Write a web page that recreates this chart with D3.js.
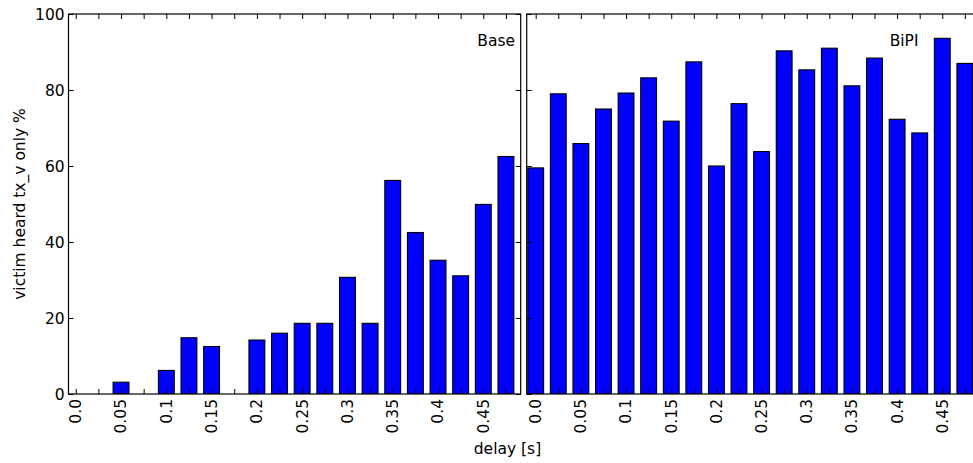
<!DOCTYPE html>
<html>
<head>
<meta charset="utf-8">
<script src="https://cdn.jsdelivr.net/npm/d3@7"></script>
<style>
  body { margin: 0; background: #fff; }
  svg text { font-family: "DejaVu Sans", sans-serif; fill: #000; font-size: 15.5px; }
</style>
</head>
<body>
<div class="chart"></div>
<script>
// delays on the x axis (one bar per delay)
const delays = [0, 0.025, 0.05, 0.075, 0.1, 0.125, 0.15, 0.175, 0.2, 0.225,
                0.25, 0.275, 0.3, 0.325, 0.35, 0.375, 0.4, 0.425, 0.45, 0.475];
const xTickLabels = ['0.0', '0.05', '0.1', '0.15', '0.2', '0.25', '0.3', '0.35', '0.4', '0.45'];
const yTicks = [0, 20, 40, 60, 80, 100];
const baseValues = [0, 0, 3.1, 0, 6.2, 14.8, 12.5, 0, 14.2, 16.0,
                    18.6, 18.6, 30.7, 18.6, 56.2, 42.5, 35.2, 31.1, 49.9, 62.5];
const bipiValues = [59.5, 79.0, 65.9, 75.0, 79.2, 83.2, 71.8, 87.4, 60.0, 76.4,
                    63.8, 90.3, 85.3, 91.0, 81.1, 88.4, 72.3, 68.7, 93.6, 87.0];

const w = 973, h = 463;
const plotTop = 14, plotBottom = 394;
const barWidth = 0.0175;
const tickLen = 5;

const panels = [
  {name: 'Base', values: baseValues, left: 68.5, right: 520.7, xDomain: [-0.008, 0.4913], labelX: 515},
  {name: 'BiPI', values: bipiValues, left: 526.7, right: 978.6, xDomain: [-0.00996, 0.4902], labelX: 918.5}
];

const yScale = d3.scaleLinear().domain([0, 100]).range([plotBottom, plotTop]);

const svg = d3.select('div.chart')
  .append('svg')
  .attr('width', w)
  .attr('height', h);

panels.forEach(function(p, pi) {
  const xScale = d3.scaleLinear().domain(p.xDomain).range([p.left, p.right]);
  const g = svg.append('g');

  const clipId = 'clip' + pi;
  svg.append('clipPath').attr('id', clipId)
     .append('rect')
     .attr('x', p.left).attr('y', plotTop)
     .attr('width', p.right - p.left).attr('height', plotBottom - plotTop);

  // bars
  g.append('g')
   .attr('clip-path', 'url(#' + clipId + ')')
   .selectAll('rect')
   .data(p.values)
   .enter()
   .append('rect')
   .attr('fill', '#0000ff')
   .attr('stroke', '#000')
   .attr('stroke-width', 1.1)
   .attr('x', (d, i) => xScale(delays[i] - barWidth / 2))
   .attr('width', xScale(barWidth) - xScale(0))
   .attr('y', (d) => yScale(d))
   .attr('height', (d) => plotBottom - yScale(d));

  // inward ticks on all four sides
  const xBottom = d3.axisBottom(xScale).tickValues(delays).tickSize(-tickLen).tickFormat('');
  const xTop = d3.axisTop(xScale).tickValues(delays).tickSize(-tickLen).tickFormat('');
  const yLeft = d3.axisLeft(yScale).tickValues(yTicks).tickSize(-tickLen).tickFormat('');
  const yRight = d3.axisRight(yScale).tickValues(yTicks).tickSize(-tickLen).tickFormat('');

  [[xBottom, 'translate(0,' + plotBottom + ')'],
   [xTop, 'translate(0,' + plotTop + ')'],
   [yLeft, 'translate(' + p.left + ',0)'],
   [yRight, 'translate(' + p.right + ',0)']].forEach(function(a) {
    const ag = g.append('g').attr('transform', a[1]).call(a[0]);
    ag.select('.domain').remove();
    ag.selectAll('line').attr('stroke', '#000').attr('stroke-width', 1);
  });

  // frame
  g.append('rect')
   .attr('x', p.left).attr('y', plotTop)
   .attr('width', p.right - p.left).attr('height', plotBottom - plotTop)
   .attr('fill', 'none')
   .attr('stroke', '#000')
   .attr('stroke-width', 1.2);

  // rotated x tick labels every 0.05
  g.selectAll('text.xt')
   .data(xTickLabels)
   .enter()
   .append('text')
   .attr('class', 'xt')
   .attr('transform', (d, i) => 'translate(' + xScale(delays[i * 2]) + ',' + (plotBottom + 5) + ') rotate(-90)')
   .attr('text-anchor', 'end')
   .attr('dy', '0.35em')
   .text((d) => d);

  g.append('text')
   .attr('x', p.labelX)
   .attr('y', 46)
   .attr('text-anchor', 'end')
   .text(p.name);

  if (pi === 0) {
    g.selectAll('text.yt')
     .data(yTicks)
     .enter()
     .append('text')
     .attr('class', 'yt')
     .attr('x', p.left - 3.8)
     .attr('y', (d) => yScale(d))
     .attr('dy', '0.36em')
     .attr('text-anchor', 'end')
     .text((d) => d);
  }
});

svg.append('text')
   .attr('transform', 'translate(24.5,' + ((plotTop + plotBottom) / 2) + ') rotate(-90)')
   .attr('text-anchor', 'middle')
   .text('victim heard tx_v only %');

svg.append('text')
   .attr('x', 507.5)
   .attr('y', 454)
   .attr('text-anchor', 'middle')
   .text('delay [s]');
</script>
</body>
</html>
